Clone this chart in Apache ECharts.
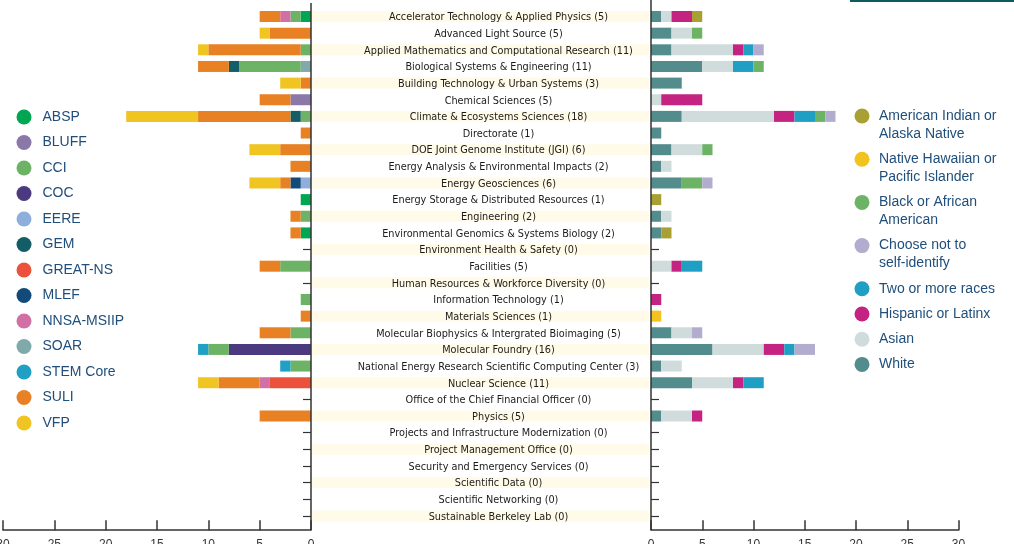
<!DOCTYPE html>
<html>
<head>
<meta charset="utf-8">
<script src="https://cdn.jsdelivr.net/npm/echarts@6/dist/echarts.min.js"></script>
<style>
  html, body { margin: 0; padding: 0; background: #fff; }
  #chart { width: 1014px; height: 544px; }
</style>
</head>
<body>
<div id="chart"></div>
<script>
// divisions (rows, top to bottom)
const divisions = [
  'Accelerator Technology & Applied Physics', 'Advanced Light Source',
  'Applied Mathematics and Computational Research', 'Biological Systems & Engineering',
  'Building Technology & Urban Systems', 'Chemical Sciences', 'Climate & Ecosystems Sciences',
  'Directorate', 'DOE Joint Genome Institute (JGI)', 'Energy Analysis & Environmental Impacts',
  'Energy Geosciences', 'Energy Storage & Distributed Resources', 'Engineering',
  'Environmental Genomics & Systems Biology', 'Environment Health & Safety', 'Facilities',
  'Human Resources & Workforce Diversity', 'Information Technology', 'Materials Sciences',
  'Molecular Biophysics & Intergrated Bioimaging', 'Molecular Foundry',
  'National Energy Research Scientific Computing Center', 'Nuclear Science',
  'Office of the Chief Financial Officer', 'Physics', 'Projects and Infrastructure Modernization',
  'Project Management Office', 'Security and Emergency Services', 'Scientific Data',
  'Scientific Networking', 'Sustainable Berkeley Lab'
];

// left side: programs
const absp    = [1,0,0,0,0,0,0,0,0,0,0,1,0,1,0,0,0,0,0,0,0,0,0,0,0,0,0,0,0,0,0];
const bluff   = [0,0,0,0,0,2,0,0,0,0,0,0,0,0,0,0,0,0,0,0,0,0,0,0,0,0,0,0,0,0,0];
const soar    = [0,0,0,1,0,0,0,0,0,0,0,0,0,0,0,0,0,0,0,0,0,0,0,0,0,0,0,0,0,0,0];
const coc     = [0,0,0,0,0,0,0,0,0,0,0,0,0,0,0,0,0,0,0,0,8,0,0,0,0,0,0,0,0,0,0];
const eere    = [0,0,0,0,0,0,0,0,0,0,1,0,0,0,0,0,0,0,0,0,0,0,0,0,0,0,0,0,0,0,0];
const cci     = [1,0,1,6,0,0,1,0,0,0,0,0,1,0,0,3,0,1,0,2,2,2,0,0,0,0,0,0,0,0,0];
const gem     = [0,0,0,1,0,0,1,0,0,0,0,0,0,0,0,0,0,0,0,0,0,0,0,0,0,0,0,0,0,0,0];
const mlef    = [0,0,0,0,0,0,0,0,0,0,1,0,0,0,0,0,0,0,0,0,0,0,0,0,0,0,0,0,0,0,0];
const greatNs = [0,0,0,0,0,0,0,0,0,0,0,0,0,0,0,0,0,0,0,0,0,0,4,0,0,0,0,0,0,0,0];
const nnsa    = [1,0,0,0,0,0,0,0,0,0,0,0,0,0,0,0,0,0,0,0,0,0,1,0,0,0,0,0,0,0,0];
const stem    = [0,0,0,0,0,0,0,0,0,0,0,0,0,0,0,0,0,0,0,0,1,1,0,0,0,0,0,0,0,0,0];
const suli    = [2,4,9,3,1,3,9,1,3,2,1,0,1,1,0,2,0,0,1,3,0,0,4,0,5,0,0,0,0,0,0];
const vfp     = [0,1,1,0,2,0,7,0,3,0,3,0,0,0,0,0,0,0,0,0,0,0,2,0,0,0,0,0,0,0,0];

// right side: race / ethnicity
const white    = [1,2,2,5,3,0,3,1,2,1,3,0,1,1,0,0,0,0,0,2,6,1,4,0,1,0,0,0,0,0,0];
const asian    = [1,2,6,3,0,1,9,0,3,1,0,0,1,0,0,2,0,0,0,2,5,2,4,0,3,0,0,0,0,0,0];
const hispanic = [2,0,1,0,0,4,2,0,0,0,0,0,0,0,0,1,0,1,0,0,2,0,1,0,1,0,0,0,0,0,0];
const twoRaces = [0,0,1,2,0,0,2,0,0,0,0,0,0,0,0,2,0,0,0,0,1,0,2,0,0,0,0,0,0,0,0];
const black    = [0,1,0,1,0,0,1,0,1,0,2,0,0,0,0,0,0,0,0,0,0,0,0,0,0,0,0,0,0,0,0];
const noAnswer = [0,0,1,0,0,0,1,0,0,0,1,0,0,0,0,0,0,0,0,1,2,0,0,0,0,0,0,0,0,0,0];
const amInd    = [1,0,0,0,0,0,0,0,0,0,0,1,0,1,0,0,0,0,0,0,0,0,0,0,0,0,0,0,0,0,0];
const nhpi     = [0,0,0,0,0,0,0,0,0,0,0,0,0,0,0,0,0,0,1,0,0,0,0,0,0,0,0,0,0,0,0];

const xTicks = [0, 5, 10, 15, 20, 25, 30];

// stacking order (from the centre outwards)
const programs = [
  ['ABSP', absp, '#00a651'], ['BLUFF', bluff, '#8a79a8'], ['SOAR', soar, '#80a9ab'],
  ['COC', coc, '#4b3a80'], ['EERE', eere, '#8eaedb'], ['CCI', cci, '#6db365'],
  ['GEM', gem, '#135e66'], ['MLEF', mlef, '#124a7a'], ['GREAT-NS', greatNs, '#ec523b'],
  ['NNSA-MSIIP', nnsa, '#d070a5'], ['STEM Core', stem, '#1fa0c4'], ['SULI', suli, '#e88024'],
  ['VFP', vfp, '#f0c421']
];
const programLegend = ['ABSP','BLUFF','CCI','COC','EERE','GEM','GREAT-NS','MLEF','NNSA-MSIIP','SOAR','STEM Core','SULI','VFP'];

const races = [
  ['White', white, '#528c8c'], ['Asian', asian, '#d0dcdc'], ['Hispanic or Latinx', hispanic, '#c52382'],
  ['Two or more races', twoRaces, '#1e9fc3'], ['Black or African American', black, '#6db365'],
  ['Choose not to self-identify', noAnswer, '#b2adce'],
  ['American Indian or Alaska Native', amInd, '#a9a034'],
  ['Native Hawaiian or Pacific Islander', nhpi, '#f2c31f']
];
const raceLegend = [
  ['American Indian or', 'Alaska Native'], ['Native Hawaiian or', 'Pacific Islander'],
  ['Black or African', 'American'], ['Choose not to', 'self-identify'],
  ['Two or more races'], ['Hispanic or Latinx'], ['Asian'], ['White']
];
const raceLegendColors = ['#a9a034','#f2c31f','#6db365','#b2adce','#1e9fc3','#c52382','#d0dcdc','#528c8c'];

const totals = divisions.map((d, i) => races.reduce((s, r) => s + r[1][i], 0));

const textBlue = '#1f4e7a';
const axisColor = '#333';
const gridTop = 8.2, gridBottom = 19.8;

var chart = echarts.init(document.getElementById('chart'));

const series = [];
programs.forEach(p => {
  series.push({
    name: p[0], type: 'bar', stack: 'programs', xAxisIndex: 0, yAxisIndex: 0,
    barWidth: 11, data: p[1], itemStyle: {color: p[2]}
  });
});
races.forEach(r => {
  series.push({
    name: r[0], type: 'bar', stack: 'races', xAxisIndex: 1, yAxisIndex: 1,
    barWidth: 11, data: r[1], itemStyle: {color: r[2]}
  });
});
// centre column: striped bands with the division names
series.push({
  name: 'divisions', type: 'bar', xAxisIndex: 2, yAxisIndex: 2, barWidth: 11,
  data: divisions.map(() => 1),
  itemStyle: {color: p => p.dataIndex % 2 === 0 ? '#fffbe8' : 'rgba(0,0,0,0)'},
  label: {
    show: true, position: 'inside', offset: [18, 1], color: '#1a1a1a', fontSize: 10.8,
    fontFamily: "'DejaVu Sans Condensed', sans-serif",
    formatter: p => divisions[p.dataIndex] + ' (' + totals[p.dataIndex] + ')'
  },
  silent: true
});

const valueAxis = (gridIndex, inverse) => ({
  type: 'value', gridIndex: gridIndex, min: 0, max: 30, interval: 5, inverse: inverse,
  offset: 6,
  axisLine: {show: true, lineStyle: {color: axisColor, width: 1.5}},
  axisTick: {show: true, inside: true, length: 10, lineStyle: {color: axisColor, width: 1.5}},
  axisLabel: {color: '#333', fontSize: 12, margin: 8,
    formatter: v => xTicks.indexOf(v) >= 0 ? String(v) : ''},
  splitLine: {show: false}
});

const catAxis = (gridIndex, position, showTick) => ({
  type: 'category', gridIndex: gridIndex, data: divisions, inverse: true, position: position,
  axisLine: {show: false},
  axisTick: {show: showTick, inside: true, length: 8, alignWithLabel: true,
    lineStyle: {color: axisColor, width: 1.2}},
  axisLabel: {show: false}
});

var leftLegendY = 116;
const raceGraphics = [];
let ry = 116;
raceLegend.forEach((lines, i) => {
  raceGraphics.push({type: 'circle', shape: {cx: 862, cy: ry, r: 7.5}, style: {fill: raceLegendColors[i]}});
  lines.forEach((t, j) => {
    raceGraphics.push({type: 'text', x: 879, y: ry + j * 18,
      style: {text: t, fill: textBlue, font: "14px 'Liberation Sans', Arial, sans-serif", verticalAlign: 'middle'}});
  });
  ry += lines.length * 18 + 7.2;
});

var option = {
  animation: false,
  grid: [
    {left: 3, right: 703, top: gridTop, bottom: gridBottom, outerBoundsMode: 'none'},
    {left: 651, right: 55.5, top: gridTop, bottom: gridBottom, outerBoundsMode: 'none'},
    {left: 312, right: 365, top: gridTop, bottom: gridBottom, outerBoundsMode: 'none'}
  ],
  xAxis: [
    valueAxis(0, true),
    valueAxis(1, false),
    {type: 'value', gridIndex: 2, min: 0, max: 1, show: false}
  ],
  yAxis: [
    catAxis(0, 'right', true),
    catAxis(1, 'left', true),
    catAxis(2, 'left', false)
  ],
  legend: {
    data: programLegend, orient: 'vertical', left: 11.5, top: leftLegendY - 11.5,
    icon: 'circle', itemWidth: 27, itemHeight: 15, itemGap: 10.5,
    textStyle: {color: textBlue, fontSize: 14, lineHeight: 15, fontFamily: "'Liberation Sans', Arial, sans-serif"}
  },
  graphic: [
    {type: 'line', shape: {x1: 311, y1: 3, x2: 311, y2: 530}, style: {stroke: axisColor, lineWidth: 1.5}, z: 10},
    {type: 'line', shape: {x1: 651, y1: 0, x2: 651, y2: 530}, style: {stroke: axisColor, lineWidth: 1.5}, z: 10},
    {type: 'rect', shape: {x: 850, y: 0, width: 164, height: 2}, style: {fill: '#0e5a63'}}
  ].concat(raceGraphics),
  series: series
};
chart.setOption(option);
</script>
</body>
</html>
